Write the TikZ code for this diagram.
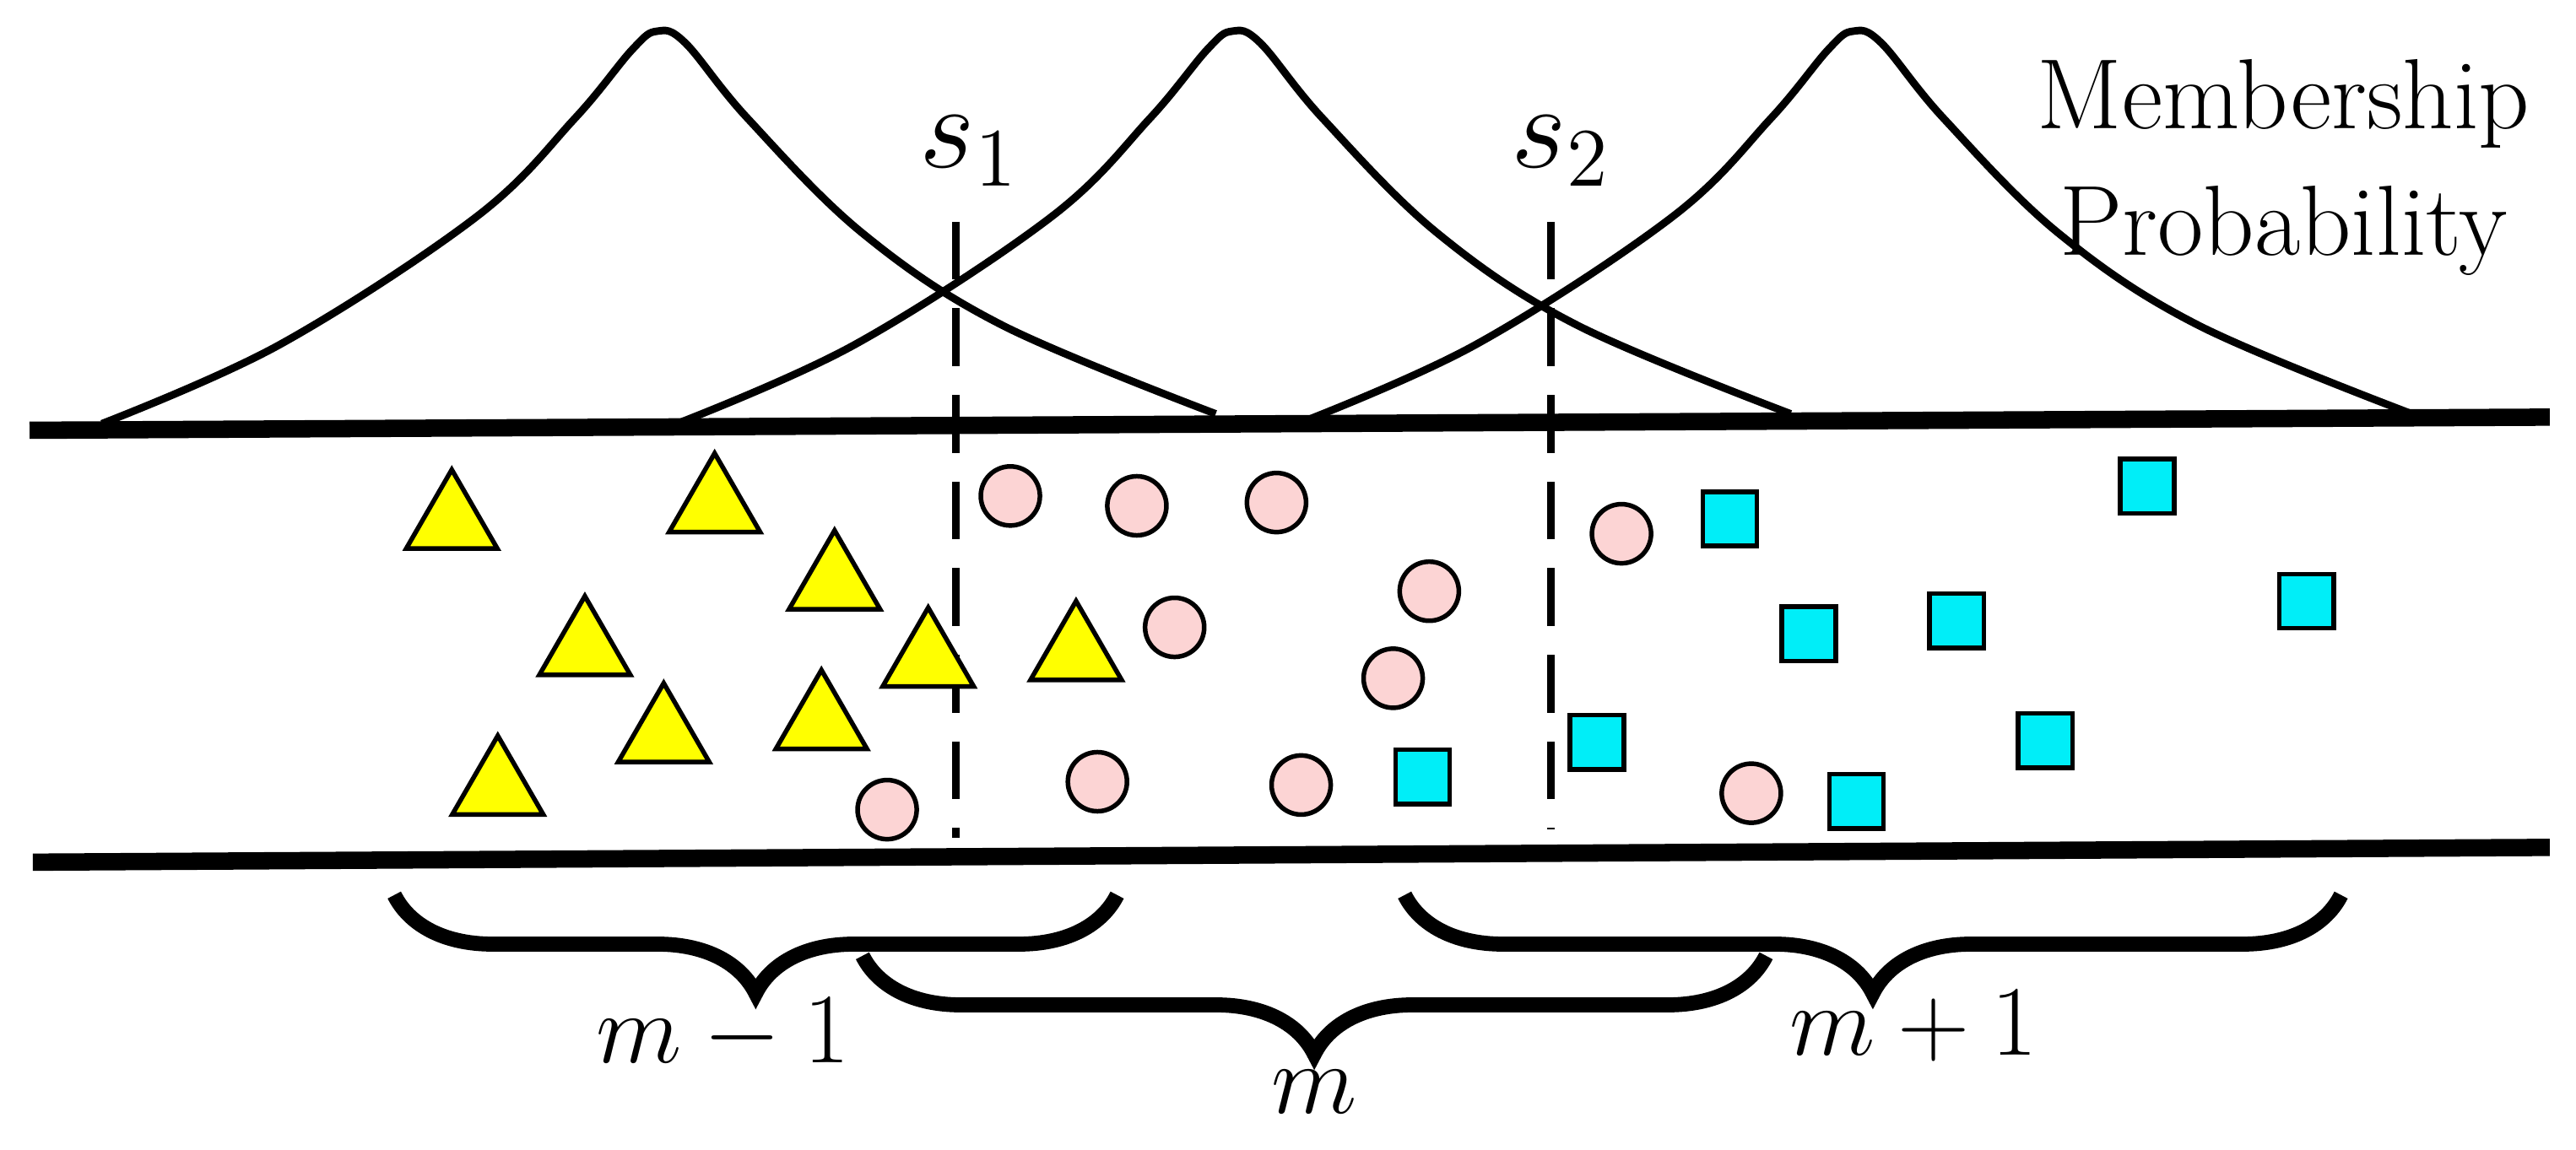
\documentclass[tikz,border=0pt]{standalone}
\usetikzlibrary{decorations.pathreplacing,shapes.geometric}
\definecolor{cy}{RGB}{0,238,248}
\definecolor{pk}{RGB}{252,212,212}
\definecolor{yl}{RGB}{255,255,0}
\begin{document}
\begin{tikzpicture}[x=0.01cm,y=-0.01cm,
  tri/.style={draw=black,fill=yl,regular polygon,regular polygon sides=3,minimum size=64*0.01cm,inner sep=0pt,line width=0.8pt},
  circ/.style={draw=black,fill=pk,circle,minimum size=36*0.01cm,inner sep=0pt,line width=0.8pt},
  sq/.style={draw=black,fill=cy,minimum size=33*0.01cm,inner sep=0pt,line width=0.8pt},
  bar/.style={line width=3pt},
  crv/.style={line width=1.3pt},
  dsh/.style={line width=1.3pt,dash pattern=on 10pt off 5pt},
  brc/.style={decorate,decoration={brace,mirror,amplitude=17pt,aspect=0.5},line width=2.6pt},
  lab/.style={font=\LARGE}]
\useasboundingbox (0,0) rectangle (1568,700);
\foreach \o in {0,350,728}{
 \draw[crv,xshift=\o*0.01cm] plot[smooth,tension=0.6] coordinates{(62,258)(170,210)(290,132)(350,72)(385,30)(400,19)(417,26)(455,72)(525,142)(610,198)(740,252)};
}
\draw[bar] (18,262) coordinate(tl) -- (1552,254) coordinate(tr);
\draw[bar] (20,525) coordinate(bl) -- (1552,516) coordinate(br);
\coordinate (d1a) at (582,135); \coordinate (d1b) at (582,510);
\coordinate (d2a) at (944,135); \coordinate (d2b) at (944,505);
\draw[dsh] (d1a) -- (d1b);
\draw[dsh] (d2a) -- (d2b);
\node[font=\huge] (s1) at (590,92) {$s_1$};
\node[font=\huge] (s2) at (950,92) {$s_2$};
\node[font=\LARGE,align=center,inner sep=0pt] (mp) at (1390,102) {Membership\\Probability};
\foreach \p [count=\i] in {(275,318),(435,308),(508,355),(356,395),(565,402),(655,398),(404,448),(500,440),(303,480)}
  \node[tri] (t\i) at \p {};
\foreach \p [count=\i] in {(615,302),(692,308),(777,306),(987,325),(870,360),(715,382),(848,413),(668,476),(792,478),(540,493),(1066,483)}
  \node[circ] (c\i) at \p {};
\foreach \p [count=\i] in {(1053,316),(1307,296),(1101,386),(1191,378),(1404,366),(972,452),(866,473),(1245,451),(1130,488)}
  \node[sq] (q\i) at \p {};
\coordinate (b1a) at (240,545); \coordinate (b1b) at (680,545);
\coordinate (b2a) at (525,582); \coordinate (b2b) at (1075,582);
\coordinate (b3a) at (855,545); \coordinate (b3b) at (1425,545);
\draw[brc] (b1a) -- (b1b);
\draw[brc] (b2a) -- (b2b);
\draw[brc] (b3a) -- (b3b);
\node[lab] (l1) at (440,630) {$m-1$};
\node[lab] (l2) at (800,665) {$m$};
\node[lab] (l3) at (1165,625) {$m+1$};
\end{tikzpicture}
\end{document}
